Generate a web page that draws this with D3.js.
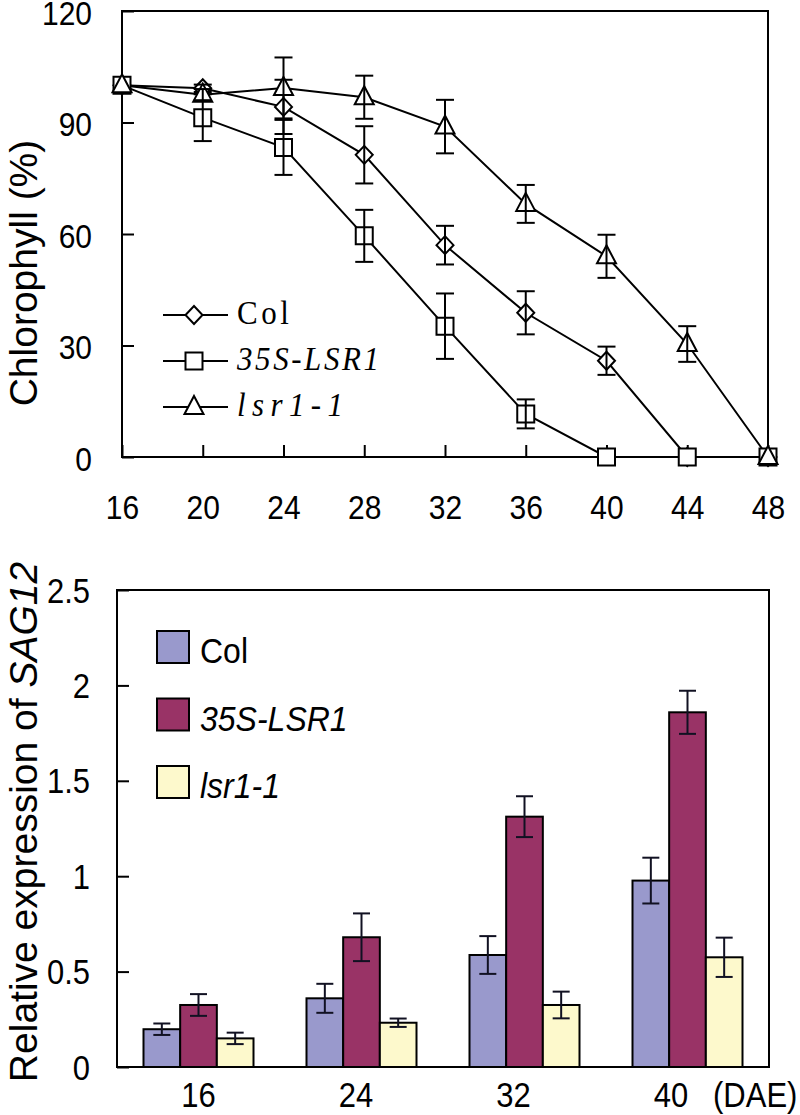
<!DOCTYPE html>
<html><head><meta charset="utf-8">
<script src="https://cdn.jsdelivr.net/npm/d3@7"></script>
<style>
body{margin:0;background:#fff;}
svg{display:block;}
text{font-family:"Liberation Sans",Arial,sans-serif;fill:#000;}
</style></head>
<body><svg id="c" width="800" height="1115"></svg>
<script>
// ---------- Data: top chart (chlorophyll %) ----------
const days = [16, 20, 24, 28, 32, 36, 40, 44, 48];
const colVals   = [100, 99.2, 94.2, 81.3, 57.0, 38.8, 25.9, 0, 0];
const colErr    = [0, 1.0, 7.3, 7.7, 5.2, 5.8, 3.8, 0, 0];
const lsrOxVals = [100, 91.3, 83.3, 59.5, 35.2, 11.6, 0, 0, 0];
const lsrOxErr  = [0, 6.3, 7.4, 7.0, 8.8, 3.9, 0, 0, 0];
const lsrMutVals= [100, 97.5, 99.3, 96.8, 88.9, 68.1, 54.0, 30.4, 0];
const lsrMutErr = [0, 1.5, 8.2, 5.8, 7.2, 5.1, 5.8, 4.8, 0];
const topYTicks = [0, 30, 60, 90, 120];
const topSeriesNames = ["Col", "35S-LSR1", "lsr1-1"];

// ---------- Data: bottom chart (SAG12 expression) ----------
const dae = ["16", "24", "32", "40"];
const barSeries = ["Col", "35S-LSR1", "lsr1-1"];
const barCol    = [0.198, 0.36, 0.587, 0.977];
const barColErr = [0.03, 0.076, 0.099, 0.12];
const barOx     = [0.325, 0.68, 1.312, 1.859];
const barOxErr  = [0.057, 0.125, 0.107, 0.113];
const barMut    = [0.150, 0.232, 0.325, 0.575];
const barMutErr = [0.03, 0.022, 0.07, 0.103];
const botYTicks = [0, 0.5, 1, 1.5, 2, 2.5];
const barColors = ["#9999cc", "#993366", "#fdf9cc"];

const VS = 1.12; // vertical stretch of glyphs seen in the reference
const svg = d3.select("#c");

// ================= TOP CHART =================
const T = {l:122, t:11, r:768, b:457};
const x = d3.scaleLinear().domain([16, 48]).range([T.l, T.r]);
const y = d3.scaleLinear().domain([0, 120]).range([T.b, T.t]);
const gT = svg.append("g");

gT.append("rect").attr("x", T.l).attr("y", T.t).attr("width", T.r - T.l).attr("height", T.b - T.t)
  .attr("fill", "none").attr("stroke", "#000").attr("stroke-width", 2);

const yAx = gT.append("g").attr("transform", `translate(${T.l},0)`)
  .call(d3.axisLeft(y).tickValues(topYTicks).tickSizeInner(-12).tickSizeOuter(0).tickPadding(30));
const xAx = gT.append("g").attr("transform", `translate(0,${T.b})`)
  .call(d3.axisBottom(x).tickValues(days).tickSizeInner(-12).tickSizeOuter(0).tickPadding(0));
[yAx, xAx].forEach(a => {
  a.select(".domain").remove();
  a.selectAll("line").attr("stroke", "#000").attr("stroke-width", 2);
  a.selectAll("text").style("font-size", "30px").attr("fill", "#000");
});
// y tick labels: baseline ~13px below tick, stretched vertically
yAx.selectAll("text").attr("y", 0).attr("dy", null)
  .attr("transform", `translate(0,13) scale(1,${VS})`);
// x tick labels: baseline at y = 519
xAx.selectAll("text").attr("y", 0).attr("dy", null)
  .attr("transform", `translate(0,${519 - T.b}) scale(1,${VS})`);

gT.append("text").attr("transform", `translate(37,273) rotate(-90)`)
  .attr("text-anchor", "middle").style("font-size", "39px").text("Chlorophyll (%)");

const series = [
  {name: topSeriesNames[0], vals: colVals, err: colErr, shape: "diamond"},
  {name: topSeriesNames[1], vals: lsrOxVals, err: lsrOxErr, shape: "square"},
  {name: topSeriesNames[2], vals: lsrMutVals, err: lsrMutErr, shape: "triangle"}
];
function markerPath(shape) {
  if (shape === "diamond") return "M0,-9L8.5,0L0,9L-8.5,0Z";
  if (shape === "square") return "M-8.5,-8.5H8.5V8.5H-8.5Z";
  return "M0,-11L9.5,7L-9.5,7Z";
}
const line = d3.line().x((d, i) => x(days[i])).y(d => y(d));
series.forEach(s => {
  gT.append("path").attr("d", line(s.vals)).attr("fill", "none")
    .attr("stroke", "#000").attr("stroke-width", 2);
});
series.forEach(s => {
  s.vals.forEach((v, i) => {
    gT.append("path").attr("d", markerPath(s.shape))
      .attr("transform", `translate(${x(days[i])},${y(v)})`)
      .attr("fill", "#fff").attr("stroke", "#000").attr("stroke-width", 2);
  });
  s.vals.forEach((v, i) => {
    const e = s.err[i];
    if (!e) return;
    const cx = x(days[i]);
    const g = gT.append("g").attr("stroke", "#000").attr("stroke-width", 2);
    g.append("line").attr("x1", cx).attr("x2", cx).attr("y1", y(v - e)).attr("y2", y(v + e));
    [v - e, v + e].forEach(w => g.append("line").attr("x1", cx - 9).attr("x2", cx + 9).attr("y1", y(w)).attr("y2", y(w)));
  });
});
// legend (top)
series.forEach((s, i) => {
  const cy = 315 + i * 46;
  gT.append("line").attr("x1", 163).attr("x2", 228).attr("y1", cy).attr("y2", cy)
    .attr("stroke", "#000").attr("stroke-width", 2);
  gT.append("path").attr("d", markerPath(s.shape)).attr("transform", `translate(194,${cy})`)
    .attr("fill", "#fff").attr("stroke", "#000").attr("stroke-width", 2);
  gT.append("text").attr("transform", `translate(237,${cy + 9}) scale(1,${VS})`)
    .style("font-family", "'Liberation Serif','Times New Roman',serif")
    .style("font-size", "31px").style("font-style", i === 0 ? "normal" : "italic")
    .attr("textLength", s.name.length * 18 - 2).attr("lengthAdjust", "spacing")
    .text(s.name);
});

// ================= BOTTOM CHART =================
const B = {l:117, t:590, r:769, b:1067};
const xb = d3.scaleBand().domain(dae).range([B.l, B.r]);
const xs = d3.scaleBand().domain(barSeries).range([-55, 55]);
const yb = d3.scaleLinear().domain([0, 2.5]).range([B.b, B.t]);
const gB = svg.append("g");

gB.append("rect").attr("x", B.l).attr("y", B.t).attr("width", B.r - B.l).attr("height", B.b - B.t)
  .attr("fill", "none").attr("stroke", "#000").attr("stroke-width", 2);

const ybAx = gB.append("g").attr("transform", `translate(${B.l},0)`)
  .call(d3.axisLeft(yb).tickValues(botYTicks).tickFormat(d3.format("")).tickSizeInner(-12).tickSizeOuter(0).tickPadding(27));
ybAx.select(".domain").remove();
ybAx.selectAll("line").attr("stroke", "#000").attr("stroke-width", 2);
ybAx.selectAll("text").style("font-size", "31px").attr("fill", "#000")
  .attr("y", 0).attr("dy", null).attr("transform", `translate(0,12) scale(1,${VS})`);

const barData = [
  {vals: barCol, err: barColErr},
  {vals: barOx, err: barOxErr},
  {vals: barMut, err: barMutErr}
];
barData.forEach((s, si) => {
  s.vals.forEach((v, gi) => {
    const x0 = xb(dae[gi]) + xb.bandwidth() / 2 + xs(barSeries[si]);
    gB.append("rect").attr("x", x0).attr("y", yb(v)).attr("width", xs.bandwidth()).attr("height", yb(0) - yb(v))
      .attr("fill", barColors[si]).attr("stroke", "#000").attr("stroke-width", 2);
  });
});
barData.forEach((s, si) => {
  s.vals.forEach((v, gi) => {
    const cx = xb(dae[gi]) + xb.bandwidth() / 2 + xs(barSeries[si]) + xs.bandwidth() / 2;
    const e = s.err[gi];
    const g = gB.append("g").attr("stroke", "#111122").attr("stroke-width", 2);
    g.append("line").attr("x1", cx).attr("x2", cx).attr("y1", yb(v - e)).attr("y2", yb(v + e));
    [v - e, v + e].forEach(w => g.append("line").attr("x1", cx - 8.5).attr("x2", cx + 8.5).attr("y1", yb(w)).attr("y2", yb(w)));
  });
});
// x labels
dae.forEach((d, i) => {
  gB.append("text").attr("transform", `translate(${xb(d) + xb.bandwidth() / 2 - 5.5 * i},1107) scale(1,${VS})`)
    .attr("text-anchor", "middle").style("font-size", "31px").text(d);
});
gB.append("text").attr("transform", `translate(713,1107) scale(1,${VS})`).style("font-size", "31px").text("(DAE)");

// y label
const yl = gB.append("text").attr("transform", `translate(37,822) rotate(-90)`)
  .attr("text-anchor", "middle").style("font-size", "39px");
yl.append("tspan").text("Relative expression of ");
yl.append("tspan").style("font-style", "italic").text("SAG12");

// legend (bottom)
barSeries.forEach((s, i) => {
  const y0 = 631 + i * 67.5;
  gB.append("rect").attr("x", 157).attr("y", y0).attr("width", 32).attr("height", 32)
    .attr("fill", barColors[i]).attr("stroke", "#000").attr("stroke-width", 2);
  gB.append("text").attr("transform", `translate(200,${y0 + 32}) scale(1,${VS})`).style("font-size", "32px")
    .style("font-style", i === 0 ? "normal" : "italic").text(s);
});
</script></body></html>
